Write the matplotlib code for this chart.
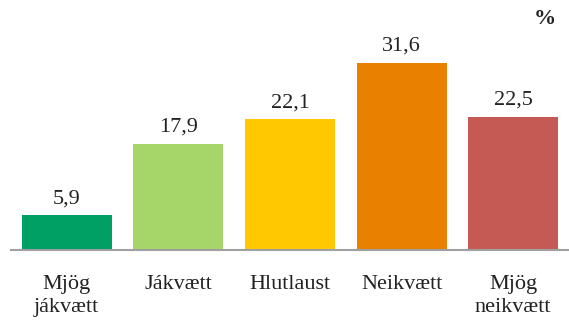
import matplotlib.pyplot as plt

# survey answers, share of respondents in percent
categories = ['Mjög\njákvætt', 'Jákvætt', 'Hlutlaust', 'Neikvætt', 'Mjög\nneikvætt']
values = [5.9, 17.9, 22.1, 31.6, 22.5]
colors = ['#00a065', '#a6d66a', '#ffc800', '#e98000', '#c55a55']

plt.rcParams['font.family'] = ['Liberation Serif', 'DejaVu Serif']

fig = plt.figure(figsize=(5.69, 3.25), dpi=100)
ax = fig.add_axes([11 / 569, 75 / 325, 1 - 11 / 569, 240 / 325])

x = range(len(categories))
bars = ax.bar(x, values, width=0.806, color=colors, zorder=2)

for b, v in zip(bars, values):
    ax.annotate(f'{v:.1f}'.replace('.', ','),
                (b.get_x() + b.get_width() / 2, v),
                xytext=(0, 5), textcoords='offset points',
                ha='center', va='bottom', fontsize=16, color='#222222')

ax.set_xlim(-0.5, 4.5)
ax.set_ylim(0, 40.5)
ax.set_yticks([])
ax.set_xticks(list(x))
ax.set_xticklabels(categories, fontsize=16, color='#222222', linespacing=1.3)
ax.tick_params(axis='x', length=0, pad=18)

for s in ['top', 'right', 'left']:
    ax.spines[s].set_visible(False)
ax.spines['bottom'].set_color('#a0a0a0')
ax.spines['bottom'].set_linewidth(1.5)

fig.text(545 / 569, 1 - 19 / 325, '%', ha='center', va='center',
         fontsize=16, fontweight='bold', color='#222222')

fig.savefig('out.png', dpi=100)
